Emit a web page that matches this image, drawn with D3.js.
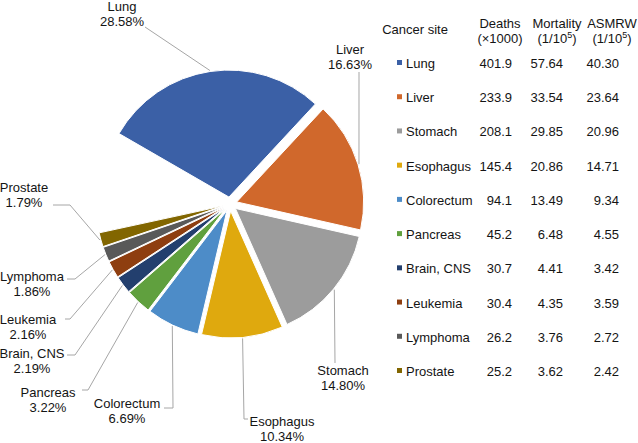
<!DOCTYPE html>
<html>
<head>
<meta charset="utf-8">
<script src="https://cdn.jsdelivr.net/npm/d3@7"></script>
<style>
  body { margin: 0; background: #fff; }
  text { font-family: "Liberation Sans", Arial, sans-serif; font-size: 13px; fill: #141414; }
</style>
</head>
<body>
<svg id="chart" width="638" height="443"></svg>
<script>
var sites = ["Lung","Liver","Stomach","Esophagus","Colorectum","Pancreas","Brain, CNS","Leukemia","Lymphoma","Prostate"];
var share = [28.58,16.63,14.80,10.34,6.69,3.22,2.19,2.16,1.86,1.79];
var deaths = [401.9,233.9,208.1,145.4,94.1,45.2,30.7,30.4,26.2,25.2];
var mortality = [57.64,33.54,29.85,20.86,13.49,6.48,4.41,4.35,3.76,3.62];
var asmrw = [40.30,23.64,20.96,14.71,9.34,4.55,3.42,3.59,2.72,2.42];

var colors = ["#3b60a6","#d0682c","#9c9c9c","#dfa90e","#4d8cc8","#60a03e","#233f6e","#8e3e10","#595959","#826600"];

// label placement: bend points of the leader line, text centre
var labelLayout = [
  {pts: [[145,27]], tx: 122, ty: 13},
  {pts: [[359,72]], tx: 350, ty: 56},
  {pts: [[335,363]], tx: 343, ty: 377},
  {pts: [[244,419],[248,419]], tx: 282, ty: 428},
  {pts: [[173,408],[164,408]], tx: 127, ty: 410},
  {pts: [[88,390],[82,390]], tx: 48, ty: 399},
  {pts: [[75,355],[67,355]], tx: 32, ty: 360},
  {pts: [[70,319],[65,319]], tx: 28, ty: 326},
  {pts: [[75,279],[67,279]], tx: 32, ty: 283},
  {pts: [[70,205],[53,205]], tx: 24, ty: 194}
];

var svg = d3.select("#chart"),
    cx = 230, cy = 204,
    radius = 127,
    explode = 7;

var start = -Math.PI / 3;
var pie = d3.pie()
    .sort(null)
    .startAngle(start)
    .endAngle(start + 2 * Math.PI * d3.sum(share) / 100);

var arcs = pie(share);

var arc = d3.arc()
    .innerRadius(0)
    .outerRadius(radius);

function mid(d) { return (d.startAngle + d.endAngle) / 2; }
function offset(d, r) {
  var a = mid(d);
  return [cx + r * Math.sin(a), cy - r * Math.cos(a)];
}

var g = svg.append("g");

g.selectAll("path.slice")
  .data(arcs)
  .enter().append("path")
    .attr("class", "slice")
    .attr("transform", function(d) { var p = offset(d, explode); return "translate(" + p[0] + "," + p[1] + ")"; })
    .attr("d", arc)
    .style("fill", function(d, i) { return colors[i]; })
    .style("stroke", "#fff")
    .style("stroke-width", 1);

// leader lines
var line = d3.line();
g.selectAll("path.leader")
  .data(arcs)
  .enter().append("path")
    .attr("class", "leader")
    .attr("d", function(d, i) {
      var p0 = offset(d, explode + radius + 1);
      return line([p0].concat(labelLayout[i].pts));
    })
    .style("fill", "none")
    .style("stroke", "#a6a6a6")
    .style("stroke-width", 1);

var lbl = g.selectAll("text.lbl")
  .data(arcs)
  .enter().append("text")
    .attr("class", "lbl")
    .attr("text-anchor", "middle");

lbl.append("tspan")
    .attr("x", function(d, i) { return labelLayout[i].tx; })
    .attr("y", function(d, i) { return labelLayout[i].ty - 2; })
    .text(function(d, i) { return sites[i]; });
lbl.append("tspan")
    .attr("x", function(d, i) { return labelLayout[i].tx; })
    .attr("y", function(d, i) { return labelLayout[i].ty + 13; })
    .text(function(d, i) { return share[i].toFixed(2) + "%"; });

// table
var y = d3.scalePoint()
    .domain(sites)
    .range([63, 371]);

var tbl = svg.append("g");

tbl.append("text").attr("x", 415).attr("y", 34).attr("text-anchor", "middle").text("Cancer site");

var heads = [
  {x: 500, top: "Deaths", sub: ["(\u00d71000)", null]},
  {x: 557, top: "Mortality", sub: ["(1/10", "5", ")"]},
  {x: 612, top: "ASMRW", sub: ["(1/10", "5", ")"]}
];
heads.forEach(function(h) {
  tbl.append("text").attr("x", h.x).attr("y", 28).attr("text-anchor", "middle").text(h.top);
  var t = tbl.append("text").attr("x", h.x).attr("y", 43).attr("text-anchor", "middle");
  if (h.sub[1] === null) {
    t.text(h.sub[0]);
  } else {
    t.append("tspan").text(h.sub[0]);
    t.append("tspan").attr("dy", -5).style("font-size", "9px").text(h.sub[1]);
    t.append("tspan").attr("dy", 5).text(h.sub[2]);
  }
});

var rows = tbl.selectAll("g.row")
  .data(sites)
  .enter().append("g")
    .attr("class", "row")
    .attr("transform", function(d) { return "translate(0," + y(d) + ")"; });

rows.append("rect")
    .attr("x", 397).attr("y", -3)
    .attr("width", 5).attr("height", 5)
    .style("fill", function(d, i) { return colors[i]; });

rows.append("text").attr("x", 406).attr("y", 5).text(function(d) { return d; });
rows.append("text").attr("x", 512).attr("y", 5).attr("text-anchor", "end")
    .text(function(d, i) { return deaths[i].toFixed(1); });
rows.append("text").attr("x", 563).attr("y", 5).attr("text-anchor", "end")
    .text(function(d, i) { return mortality[i].toFixed(2); });
rows.append("text").attr("x", 619).attr("y", 5).attr("text-anchor", "end")
    .text(function(d, i) { return asmrw[i].toFixed(2); });
</script>
</body>
</html>
